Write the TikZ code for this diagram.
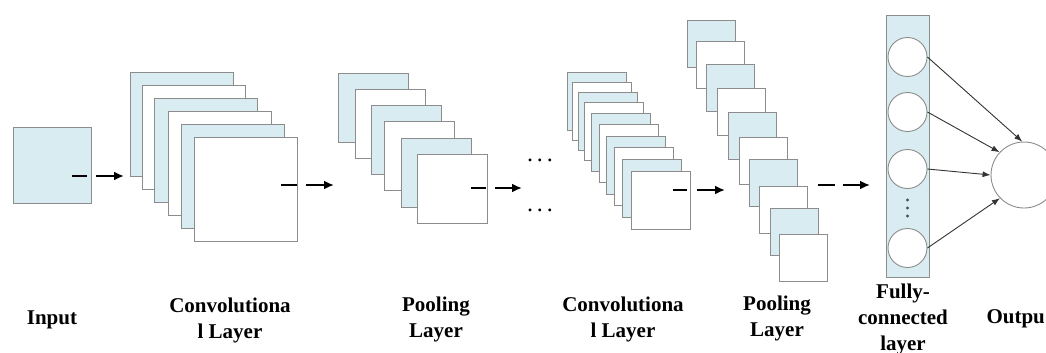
\documentclass[tikz,border=0pt]{standalone}
\usepackage{fontspec}
\setmainfont{Liberation Serif}
\usetikzlibrary{arrows.meta}
\definecolor{lb}{RGB}{217,236,242}
\definecolor{bd}{RGB}{140,140,140}
\tikzset{
  sq/.style={draw=bd, line width=0.9pt, anchor=north west, inner sep=0pt, outer sep=0pt},
  flow/.style={line width=2.4pt, black, -{Latex[length=10pt,width=9pt]}},
  fcarr/.style={line width=0.9pt, black!80, -{Latex[length=8pt,width=6pt]}},
  lbl/.style={font=\fontsize{21}{26}\selectfont\bfseries, align=center},
  neuron/.style={circle, draw=bd, line width=0.9pt, fill=white, inner sep=0pt},
  dotsty/.style={font=\fontsize{24}{24}\selectfont, inner sep=0pt, anchor=base},
}
\begin{document}
\begin{tikzpicture}[x=1pt,y=-1pt]
\useasboundingbox (0,0) rectangle (1046,353);
\clip (0,0) rectangle (1046,353);
% input
\node[sq, fill=lb, minimum width=78pt, minimum height=76pt] (input) at (13,127) {};
% conv layer 1
\foreach \x/\y/\c [count=\i] in {130/72/lb,142/85/white,154/98/lb,168/111/white,181/124/lb,194/137/white}
  \node[sq, fill=\c, minimum width=103pt, minimum height=104pt] (convA\i) at (\x,\y) {};
% pooling layer 1
\foreach \x/\y/\c [count=\i] in {338/73/lb,355/89/white,371/105/lb,384/121/white,401/138/lb,417/154/white}
  \node[sq, fill=\c, minimum width=70pt, minimum height=69pt] (poolA\i) at (\x,\y) {};
% dots
\node[dotsty] (dotsA) at (540,161) {.\,.\,.};
\node[dotsty] (dotsB) at (540,211) {.\,.\,.};
% conv layer 2
\foreach \x/\y/\c [count=\i] in {567/72/lb,572/82/white,578/92/lb,584/102/white,591/113/lb,599/124/white,606/136/lb,614/147/white,622/159/lb,631/171/white}
  \node[sq, fill=\c, minimum width=59pt, minimum height=58pt] (convB\i) at (\x,\y) {};
% pooling layer 2
\foreach \x/\y/\c [count=\i] in {687/20/lb,696/41/white,706/64/lb,717/88/white,728/112/lb,739/137/white,749/159/lb,759/186/white,770/208/lb,779/234/white}
  \node[sq, fill=\c, minimum width=48pt, minimum height=47pt] (poolB\i) at (\x,\y) {};
% fully connected
\node[sq, fill=lb, minimum width=43pt, minimum height=262pt] (fc) at (886,15) {};
\foreach \y [count=\i] in {57,112,169,248}
  \node[neuron, minimum size=39pt] (n\i) at (907.5,\y) {};
\foreach \y in {200,208,216}
  \fill[black!70] (907.5,\y) circle (1.6pt);
% output
\node[neuron, minimum size=66pt] (out) at (1024,175) {};
% flow arrows
\coordinate (s1) at (72,176);   \coordinate (e1) at (124,176);
\coordinate (s2) at (281,185);  \coordinate (e2) at (334,185);
\coordinate (s3) at (471,188);  \coordinate (e3) at (522,188);
\coordinate (s4) at (673,190);  \coordinate (e4) at (725,190);
\coordinate (s5) at (818,185);  \coordinate (e5) at (870,185);
\draw[flow, dash pattern=on 15pt off 9pt on 60pt] (s1) -- (e1);
\draw[flow, dash pattern=on 16pt off 9pt on 60pt] (s2) -- (e2);
\draw[flow, dash pattern=on 15pt off 9pt on 60pt] (s3) -- (e3);
\draw[flow, dash pattern=on 14pt off 10pt on 60pt] (s4) -- (e4);
\draw[flow, dash pattern=on 17pt off 8pt on 60pt] (s5) -- (e5);
% fc arrows
\draw[fcarr] (n1.east) -- (out.93);
\draw[fcarr] (n2.east) -- (out.137);
\draw[fcarr] (n3.east) -- (out.180);
\draw[fcarr] (n4.east) -- (out.224);
% labels
\node[lbl] (lInput) at (52,320) {Input};
\node[lbl] (lConvA) at (230,320) {Convolutiona\\l Layer};
\node[lbl] (lPoolA) at (436,319) {Pooling\\Layer};
\node[lbl] (lConvB) at (623,319) {Convolutiona\\l Layer};
\node[lbl] (lPoolB) at (777,318) {Pooling\\Layer};
\node[lbl] (lFC) at (903,319) {Fully-\\connected\\layer};
\node[lbl, anchor=west] (lOut) at (983,319) {Outpu};
\end{tikzpicture}
\end{document}
